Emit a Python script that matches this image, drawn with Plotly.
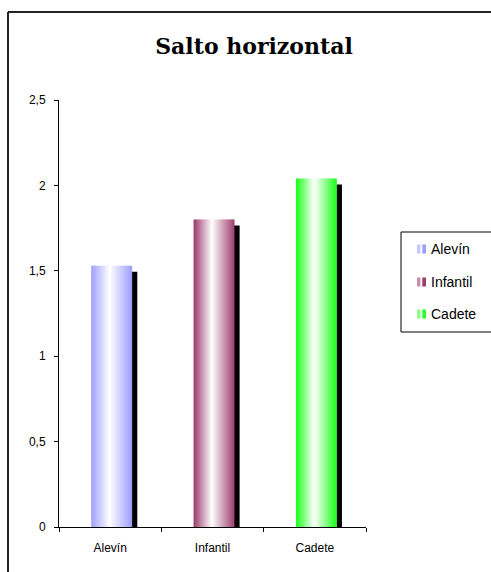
import plotly.graph_objects as go

categories = ["Alevín", "Infantil", "Cadete"]
values = [1.53, 1.80, 2.04]
base_colors = ["#9999FF", "#993366", "#22FF22"]
title_text = "Salto horizontal"

W, H = 491, 572
ML, MR, MT, MB = 59, 125, 100, 45
plot_w = W - ML - MR
plot_h = H - MT - MB
y_max = 2.5


def hex_to_rgb(h):
    h = h.lstrip("#")
    return tuple(int(h[i:i + 2], 16) for i in (0, 2, 4))


def mix(c, t):
    r, g, b = hex_to_rgb(c)
    return "rgb(%d,%d,%d)" % (
        round(255 + (r - 255) * t),
        round(255 + (g - 255) * t),
        round(255 + (b - 255) * t),
    )


fig = go.Figure()

px_per_unit = plot_h / y_max
shadow_drop = 6 / px_per_unit
bar_start, bar_w = -0.185, 0.40

# drop shadow strips
fig.add_trace(go.Bar(
    x=categories, y=[v - shadow_drop for v in values],
    offset=bar_start + bar_w - 0.005, width=0.055,
    marker=dict(color="black", line=dict(width=0)),
    showlegend=False, hoverinfo="skip",
))

# gradient bars made of thin slices
N = 41
step = bar_w / N
for k in range(N):
    pos = (k + 0.5) / N
    cw = 0.45
    t = (cw - pos) / cw if pos < cw else (pos - cw) / (1 - cw)
    t = min(1.0, t * 1.05)
    off = bar_start + k * step
    wdt = min(step + 0.003, bar_start + bar_w - off)
    fig.add_trace(go.Bar(
        x=categories, y=values, offset=off, width=wdt,
        marker=dict(color=[mix(c, t) for c in base_colors], line=dict(width=0)),
        showlegend=False, hoverinfo="skip",
    ))


def px_x(p):
    return (p - ML) / plot_w


def px_y(p):
    return (H - MB - p) / plot_h


shapes = [
    dict(type="line", xref="paper", yref="paper",
         x0=px_x(8), x1=px_x(8), y0=px_y(12), y1=px_y(600),
         line=dict(color="#222222", width=2)),
    dict(type="line", xref="paper", yref="paper",
         x0=px_x(8), x1=px_x(520), y0=px_y(12), y1=px_y(12),
         line=dict(color="#222222", width=2)),
    dict(type="rect", xref="paper", yref="paper",
         x0=px_x(401), x1=px_x(520), y0=px_y(232), y1=px_y(332),
         line=dict(color="black", width=1), fillcolor="white", layer="above"),
]
annotations = []
row_y = [249, 282, 314]
for cat, col, ry in zip(categories, base_colors, row_y):
    stripes = [(417, 420.5, mix(col, 0.55)), (420.5, 422.3, mix(col, 0.08)),
               (422.3, 426, mix(col, 0.95))]
    for a, b, c in stripes:
        shapes.append(dict(type="rect", xref="paper", yref="paper",
                           x0=px_x(a), x1=px_x(b), y0=px_y(ry + 4.5), y1=px_y(ry - 4.5),
                           line=dict(width=0), fillcolor=c, layer="above"))
    annotations.append(dict(
        text=cat, xref="paper", yref="paper", x=px_x(429), y=px_y(ry),
        xanchor="left", yanchor="middle", showarrow=False,
        font=dict(family="Liberation Sans, Arial", size=14, color="black"),
    ))

axis_font = dict(family="Liberation Sans, Arial", size=12, color="black")

fig.update_layout(
    width=W, height=H,
    margin=dict(l=ML, r=MR, t=MT, b=MB),
    paper_bgcolor="white", plot_bgcolor="white",
    barmode="overlay",
    separators=",.",
    showlegend=False,
    title=dict(
        text="<b>" + title_text + "</b>",
        font=dict(family="DejaVu Serif", size=22, color="black"),
        x=254 / W, xanchor="center", y=1 - 46 / H, yanchor="middle",
        xref="container", yref="container",
    ),
    xaxis=dict(
        type="category", range=[-0.5, 2.5],
        showline=True, linecolor="black", linewidth=1,
        ticks="outside", tickson="boundaries", ticklen=4, tickcolor="black",
        tickfont=axis_font, showgrid=False, zeroline=False,
        ticklabelstandoff=10,
    ),
    yaxis=dict(
        range=[0, y_max], dtick=0.5, tick0=0,
        showline=True, linecolor="black", linewidth=1,
        ticks="outside", ticklen=4, tickcolor="black",
        tickfont=axis_font, showgrid=False, zeroline=False,
        ticklabelstandoff=6,
    ),
    shapes=shapes,
    annotations=annotations,
)

fig.write_html("out.html", config={"staticPlot": True})
